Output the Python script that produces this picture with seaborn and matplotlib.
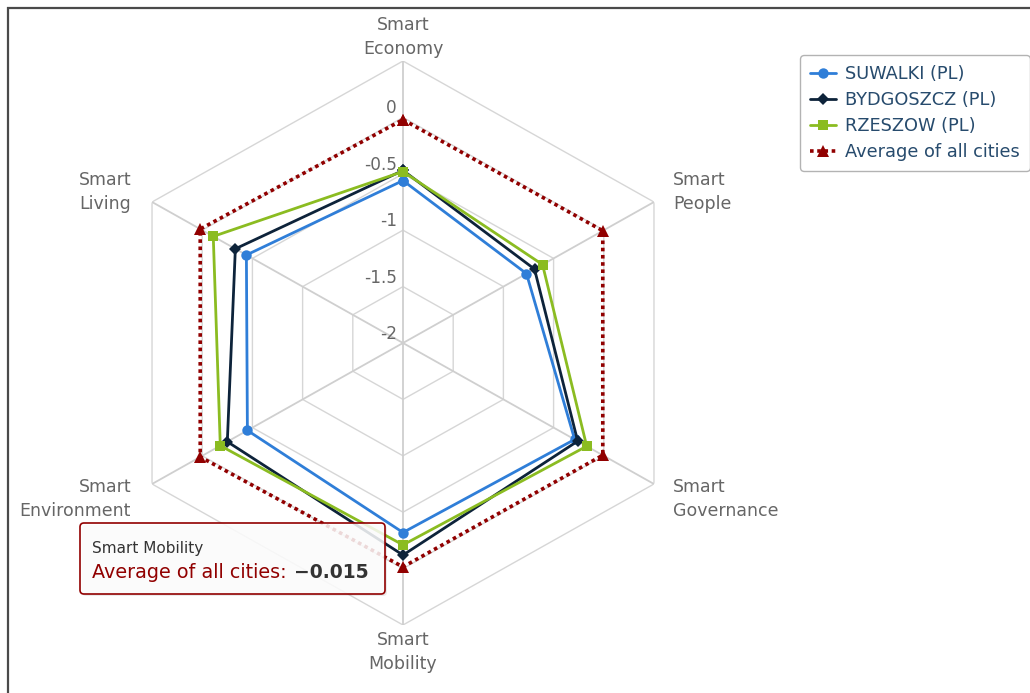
import numpy as np
import pandas as pd
import matplotlib
matplotlib.use("Agg")
import matplotlib.pyplot as plt
import seaborn as sns
from matplotlib.patches import FancyBboxPatch

# ---------------- data ----------------
categories = ["Smart\nEconomy", "Smart\nPeople", "Smart\nGovernance",
              "Smart\nMobility", "Smart\nEnvironment", "Smart\nLiving"]
suwalki = [-0.56, -0.77, -0.29, -0.32, -0.45, -0.44]
bydgoszcz = [-0.47, -0.69, -0.26, -0.12, -0.25, -0.33]
rzeszow = [-0.48, -0.61, -0.17, -0.21, -0.18, -0.11]
average = [-0.02, -0.01, -0.01, -0.015, 0.02, 0.02]
series_names = ["SUWALKI (PL)", "BYDGOSZCZ (PL)", "RZESZOW (PL)", "Average of all cities"]
grid_values = [0.5, 0, -0.5, -1, -1.5]
tick_values = [0, -0.5, -1, -1.5, -2]
tick_labels = ["0", "-0.5", "-1", "-1.5", "-2"]
r_min, r_max = -2, 0.5
tooltip_category = "Smart Mobility"
tooltip_series = "Average of all cities"
tooltip_value = average[3]

# ---------------- style ----------------
sns.set_theme(style="white")
plt.rcParams['font.family'] = ['DejaVu Sans']

W, H = 1030, 693
fig = plt.figure(figsize=(W / 100, H / 100), dpi=100)
fig.patch.set_facecolor("white")

cx, cy, rx, ry = 403, 343, 289.8, 282
ax = fig.add_axes([(cx - rx) / W, (H - cy - ry) / H, 2 * rx / W, 2 * ry / H],
                  projection="polar")
ax.set_aspect("auto")
ax.set_theta_zero_location("N")
ax.set_theta_direction(-1)
ax.set_facecolor("none")

n = len(categories)
theta = np.arange(n) * 2 * np.pi / n
theta_closed = np.append(theta, 2 * np.pi)

# polygon grid
for rv in grid_values:
    ax.plot(theta_closed, [rv] * (n + 1), color="#d6d6d6", lw=1.0, zorder=1)
for t in theta:
    ax.plot([t, t], [r_min, r_max], color="#cfcfcf", lw=1.3, zorder=1)

styles = [
    dict(color="#2f7ed8", marker="o", markersize=7.5, linestyle="-", lw=2.0),
    dict(color="#0d233a", marker="D", markersize=6.0, linestyle="-", lw=2.0),
    dict(color="#8bbc21", marker="s", markersize=7.5, linestyle="-", lw=2.0),
    dict(color="#910000", marker="^", markersize=8.5, linestyle=(0, (1, 1)), lw=2.6),
]
for z, (name, vals, st) in enumerate(zip(series_names,
                                         [suwalki, bydgoszcz, rzeszow, average], styles)):
    df = pd.DataFrame({"theta": theta_closed, "value": list(vals) + [vals[0]]})
    sns.lineplot(data=df, x="theta", y="value", ax=ax, sort=False, estimator=None,
                 label=name, markeredgewidth=0, clip_on=False, zorder=3 + z, **st)

ax.set_ylim(r_min, r_max)
ax.grid(False)
ax.set_xticks([])
ax.set_yticks([])
ax.set_xlabel("")
ax.set_ylabel("")
ax.spines["polar"].set_visible(False)

# radial tick labels
for v, lab in zip(tick_values, tick_labels):
    ax.annotate(lab, xy=(0, v), xytext=(-6, 9), textcoords="offset pixels",
                ha="right", va="center", color="#666666", fontsize=12.2)

# category labels
offsets = [(0, 24, "center"), (19, 10, "left"), (19, -15, "left"),
           (0, -27, "center"), (-21, -15, "right"), (-21, 10, "right")]
for t, cat, (dx, dy, ha) in zip(theta, categories, offsets):
    ax.annotate(cat, xy=(t, r_max), xytext=(dx, dy), textcoords="offset pixels",
                ha=ha, va="center", color="#666666", fontsize=12.5, linespacing=1.38,
                annotation_clip=False)

# legend
handles, labels = ax.get_legend_handles_labels()
if ax.get_legend() is not None:
    ax.get_legend().remove()
leg = fig.legend(handles, labels, loc="upper left",
                 bbox_to_anchor=(800 / W, 1 - 55 / H), fontsize=12.8,
                 frameon=True, fancybox=True, handlelength=1.5, handletextpad=0.5,
                 labelspacing=0.45, borderpad=0.55, borderaxespad=0)
leg.get_frame().set_edgecolor("#a0a0a0")
leg.get_frame().set_linewidth(1.0)
for txt in leg.get_texts():
    txt.set_color("#274b6d")

# overlay in pixel coordinates: frame + tooltip
ov = fig.add_axes([0, 0, 1, 1], zorder=10)
ov.set_xlim(0, W)
ov.set_ylim(H, 0)
ov.axis("off")
ov.plot([7, W], [7.5, 7.5], color="#4a4a4a", lw=1.6, solid_capstyle="butt")
ov.plot([7.5, 7.5], [7, H], color="#4a4a4a", lw=1.6, solid_capstyle="butt")

ov.add_patch(FancyBboxPatch((82, 525), 305, 71, boxstyle="round,pad=0,rounding_size=4",
                            fc=(0, 0, 0, 0.08), ec="none"))
ov.add_patch(FancyBboxPatch((80, 523), 305, 71, boxstyle="round,pad=0,rounding_size=4",
                            fc=(1, 1, 1, 0.85), ec="#910000", lw=1.2))
ov.text(92, 548, tooltip_category, fontsize=11, color="#333333", va="center")
red = ov.text(92, 573, tooltip_series + ":", fontsize=13.8, color="#910000", va="center")
ov.annotate(f"{tooltip_value:.3f}".replace("-", "\u2212"), xy=(1, 0.5), xycoords=red,
            xytext=(7, 0), textcoords="offset pixels", va="center", ha="left",
            fontsize=13.5, fontweight="bold", color="#333333")

fig.savefig("out.png", dpi=100)
